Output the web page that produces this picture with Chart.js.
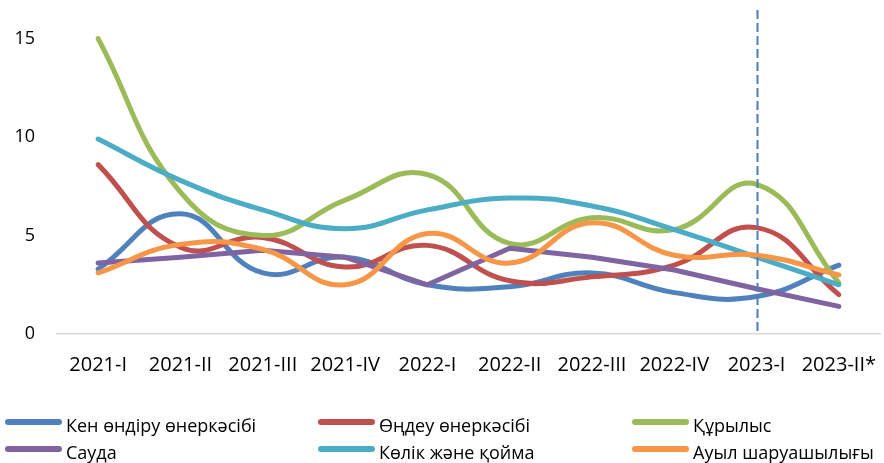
<!DOCTYPE html>
<html>
<head>
<meta charset="utf-8">
<script src="https://cdn.jsdelivr.net/npm/chart.js@4.4.1/dist/chart.umd.min.js"></script>
<style>
  html, body { margin: 0; padding: 0; background: #fff; }
  #wrap { position: relative; width: 884px; height: 463px; }
  #legend { position: absolute; left: 0; top: 0; width: 884px; height: 463px; pointer-events: none;
            font-family: "Open Sans", "Noto Sans", sans-serif; font-size: 18px; color: #000; }
  .item { position: absolute; display: flex; align-items: center; white-space: nowrap; height: 24px; line-height: 24px; }
  .sw { width: 57px; height: 6px; border-radius: 3px; margin-right: 4px; position: relative; top: -3px; }
</style>
</head>
<body>
<div id="wrap">
  <canvas id="chart" width="884" height="463"></canvas>
  <div id="legend"></div>
</div>
<script>
const quarters = ["2021-I", "2021-II", "2021-III", "2021-IV", "2022-I", "2022-II", "2022-III", "2022-IV", "2023-I", "2023-II*"];

const mining = [3.3, 6.1, 3.1, 3.9, 2.5, 2.4, 3.1, 2.1, 1.9, 3.5];
const manufacturing = [8.6, 4.4, 4.9, 3.4, 4.5, 2.7, 2.9, 3.5, 5.4, 2.0];
const construction = [15.0, 7.2, 5.0, 6.8, 8.1, 4.6, 5.9, 5.3, 7.6, 2.6];
const trade = [3.6, 3.9, 4.25, 3.9, 2.5, 4.35, 3.9, 3.25, 2.3, 1.4];
const transport = [9.9, 7.8, 6.3, 5.35, 6.3, 6.9, 6.5, 5.3, 3.9, 2.5];
const agriculture = [3.1, 4.55, 4.3, 2.5, 5.1, 3.6, 5.65, 4.0, 4.0, 3.0];

const seriesNames = ["Кен өндіру өнеркәсібі", "Өңдеу өнеркәсібі", "Құрылыс", "Сауда", "Көлік және қойма", "Ауыл шаруашылығы"];
const seriesColors = ["#4f81bd", "#c0504d", "#9bbb59", "#8064a2", "#4bacc6", "#f79646"];
const seriesData = [mining, manufacturing, construction, trade, transport, agriculture];
const smooth = [0.45, 0.45, 0.45, 0, 0.45, 0.45];

const markerQuarter = "2023-I";
const yTicks = [0, 5, 10, 15];

// вертикальная пунктирная линия
const markerLine = {
  id: "markerLine",
  afterDatasetsDraw(chart) {
    const { ctx, chartArea, scales } = chart;
    const x = Math.round(scales.x.getPixelForValue(quarters.indexOf(markerQuarter))) + 0.5;
    ctx.save();
    ctx.strokeStyle = "#4a7ebb";
    ctx.lineWidth = 2;
    ctx.setLineDash([9, 4]);
    ctx.beginPath();
    ctx.moveTo(x, chartArea.top);
    ctx.lineTo(x, chartArea.bottom);
    ctx.stroke();
    ctx.restore();
  }
};

const chart = new Chart(document.getElementById("chart"), {
  type: "line",
  data: {
    labels: quarters,
    datasets: seriesData.map((d, i) => ({
      label: seriesNames[i],
      data: d,
      borderColor: seriesColors[i],
      backgroundColor: seriesColors[i],
      borderWidth: 5,
      borderCapStyle: "round",
      borderJoinStyle: "round",
      pointRadius: 0,
      tension: smooth[i],
      order: seriesData.length - i
    }))
  },
  options: {
    responsive: false,
    animation: false,
    layout: { padding: { left: 0, right: 4, top: 10, bottom: 86 } },
    plugins: { legend: { display: false }, tooltip: { enabled: false } },
    scales: {
      x: {
        offset: true,
        grid: { display: false, drawTicks: false },
        border: { display: true, color: "#d9d9d9", width: 1.5 },
        ticks: { color: "#000", padding: 19, maxRotation: 0, autoSkip: false,
                 font: { family: "'Open Sans', 'Noto Sans', sans-serif", size: 20 } },
        afterFit: s => { s.height = 43; s.paddingLeft = 0; s.paddingRight = 0; }
      },
      y: {
        min: 0,
        max: 16.45,
        grid: { display: false, drawTicks: false },
        border: { display: false },
        afterBuildTicks: s => { s.ticks = yTicks.map(v => ({ value: v })); },
        ticks: { color: "#000", padding: 22,
                 font: { family: "'Open Sans', 'Noto Sans', sans-serif", size: 18 } },
        afterFit: s => { s.width = 57; s.paddingTop = 0; s.paddingBottom = 0; }
      }
    }
  },
  plugins: [markerLine]
});

// легенда в три колонки
const legend = document.getElementById("legend");
const colX = [5, 318, 632];
const rowY = [413, 440];
seriesNames.forEach((name, i) => {
  const item = document.createElement("div");
  item.className = "item";
  item.style.left = colX[i % 3] + "px";
  item.style.top = rowY[Math.floor(i / 3)] + "px";
  item.innerHTML = '<span class="sw" style="background:' + seriesColors[i] + '"></span><span>' + name + "</span>";
  legend.appendChild(item);
});
</script>
</body>
</html>
